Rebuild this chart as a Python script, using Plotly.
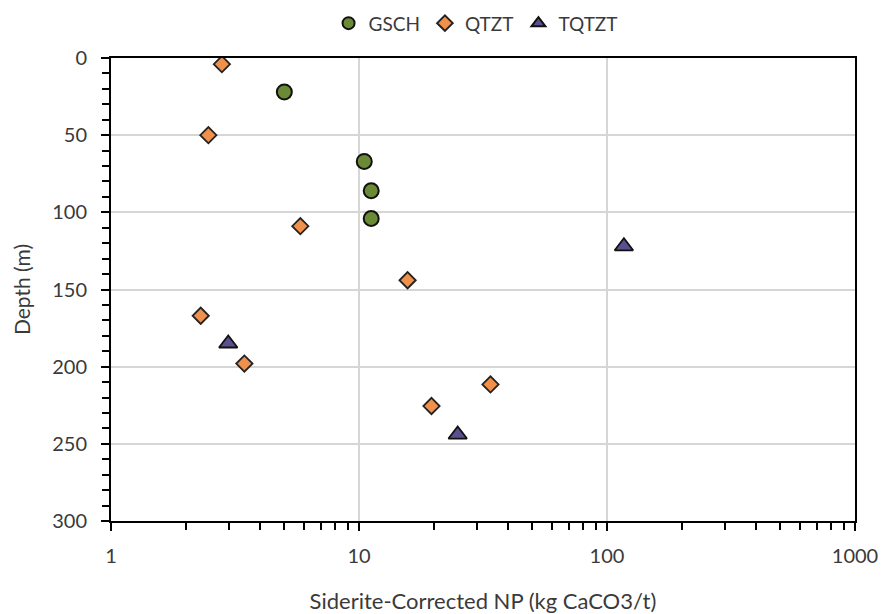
import plotly.graph_objects as go

gsch_np = [5.0, 10.5, 11.2, 11.2]
gsch_depth = [22, 67, 86, 104]

qtzt_np = [2.8, 2.47, 5.8, 15.7, 2.3, 3.45, 33.9, 19.6]
qtzt_depth = [4, 50, 109, 144, 167, 198, 211.5, 225.5]

tqtzt_np = [117, 2.97, 25.0]
tqtzt_depth = [122, 185, 244]

FONT = "Lato"
TXT = "#3a3a3a"

fig = go.Figure()
fig.add_trace(go.Scatter(x=gsch_np, y=gsch_depth, mode="markers", name="GSCH",
                         marker=dict(symbol="circle", size=15, color="#6a8a35",
                                     line=dict(color="#111111", width=2))))
fig.add_trace(go.Scatter(x=qtzt_np, y=qtzt_depth, mode="markers", name="QTZT",
                         marker=dict(symbol="diamond", size=12.5, color="#f0904a",
                                     line=dict(color="#222222", width=1.8))))
fig.add_trace(go.Scatter(x=tqtzt_np, y=tqtzt_depth, mode="markers", name="TQTZT",
                         marker=dict(symbol="triangle-up", size=16, color="#5a5090",
                                     line=dict(color="#111111", width=1.8))))

fig.update_layout(
    width=883, height=614,
    margin=dict(l=111, r=28, t=58, b=93, autoexpand=False),
    paper_bgcolor="white", plot_bgcolor="white",
    font=dict(family=FONT, size=20, color=TXT),
    showlegend=True,
    legend=dict(orientation="h", x=0.49, xanchor="center", y=1.075, yanchor="middle",
                font=dict(size=19, color=TXT), itemsizing="constant",
                itemwidth=30, tracegroupgap=0, traceorder="normal"),
    xaxis=dict(type="log", range=[0, 3], dtick=1, showgrid=True,
               gridcolor="#d6d6d6", gridwidth=2,
               showline=True, linecolor="black", linewidth=2, mirror=True,
               ticks="outside", ticklen=8, tickwidth=2, tickcolor="black",
               ticklabelstandoff=8,
               minor=dict(ticks="outside", ticklen=7, tickwidth=2, tickcolor="black",
                          showgrid=False, dtick="D1"),
               tickfont=dict(size=20, color=TXT),
               title=dict(text="Siderite-Corrected NP (kg CaCO3/t)", standoff=28,
                          font=dict(size=22, color=TXT)),
               zeroline=False),
    yaxis=dict(range=[300, 0], dtick=50, showgrid=True,
               gridcolor="#d6d6d6", gridwidth=2,
               showline=True, linecolor="black", linewidth=2, mirror=True,
               ticks="outside", ticklen=8, tickwidth=2, tickcolor="black",
               ticklabelstandoff=10,
               minor=dict(ticks="outside", ticklen=7, tickwidth=2, tickcolor="black",
                          dtick=10, showgrid=False),
               tickfont=dict(size=20, color=TXT),
               title=dict(text="Depth (m)", standoff=16,
                          font=dict(size=21, color=TXT)),
               zeroline=False),
)

fig.write_html("out.html")
